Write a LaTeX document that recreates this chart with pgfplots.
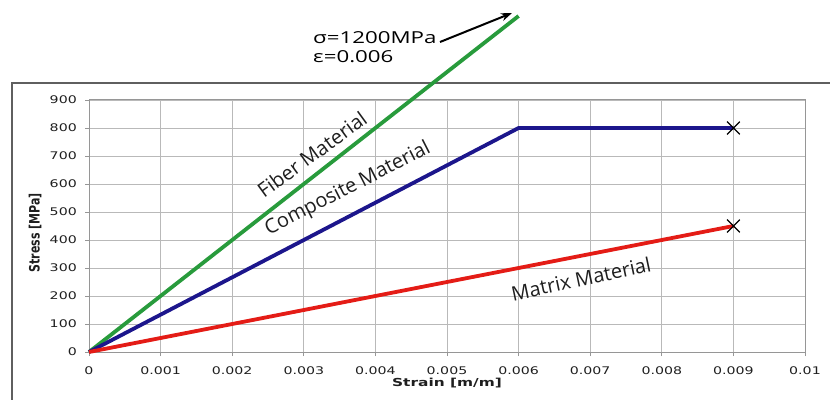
\documentclass[border=0pt]{standalone}
\usepackage{pgfplots}
\pgfplotsset{compat=1.18}
\usetikzlibrary{arrows.meta}
\usepackage{fontspec}
\setmainfont{Open Sans}
\newfontfamily\tickfont[FakeStretch=1.35]{DejaVu Sans}
\newfontfamily\xlabfont[FakeStretch=1.4]{DejaVu Sans}
\newfontfamily\ylabfont{DejaVu Sans}
\newfontfamily\lblfont{Open Sans}
\newfontfamily\annfont[FakeStretch=1.35]{Open Sans}
\definecolor{fibergreen}{RGB}{40,155,60}
\definecolor{compnavy}{RGB}{28,22,140}
\definecolor{matred}{RGB}{228,28,22}
\definecolor{gridgray}{RGB}{185,185,185}
\definecolor{framegray}{RGB}{150,150,150}
\definecolor{boxgray}{RGB}{95,95,95}
\definecolor{txt}{RGB}{30,30,30}
\begin{document}
\begin{tikzpicture}
\useasboundingbox (0pt,0pt) rectangle (830pt,399pt);
% outer frame (partially visible)
\draw[boxgray, line width=2pt] (12pt,-5pt) -- (12pt,316pt) -- (835pt,316pt);
\begin{axis}[
  at={(89pt,47pt)}, anchor=south west,
  width=716pt, height=252pt, scale only axis,
  xmin=0, xmax=0.01, ymin=0, ymax=900,
  clip=false,
  scaled x ticks=false, scaled y ticks=false,
  /pgf/number format/assume math mode=true,
  xtick={0,0.001,0.002,0.003,0.004,0.005,0.006,0.007,0.008,0.009,0.01},
  xticklabels={0,0.001,0.002,0.003,0.004,0.005,0.006,0.007,0.008,0.009,0.01},
  ytick={0,100,200,300,400,500,600,700,800,900},
  yticklabels={0,100,200,300,400,500,600,700,800,900},
  grid=major,
  grid style={gridgray, line width=0.8pt},
  axis line style={framegray, line width=1pt},
  tick pos=left,
  tick align=outside,
  major tick length=4pt,
  tick style={framegray, line width=0.8pt},
  every tick label/.append style={font=\tickfont\fontsize{10.5}{12}\selectfont, text=txt, inner sep=0pt},
  xticklabel style={anchor=north, yshift=-11pt},
  yticklabel style={anchor=east, xshift=-8pt},
  xlabel={Strain [m/m]},
  ylabel={\scalebox{1}[1.3]{Stress [MPa]}},
  xlabel style={font=\xlabfont\bfseries\fontsize{11}{12}\selectfont, text=txt, at={(axis description cs:0.5,0)}, anchor=center, yshift=-31pt},
  ylabel style={font=\ylabfont\bfseries\fontsize{11}{12}\selectfont, text=txt, at={(axis description cs:-0.0754,0.4722)}, anchor=center},
]
\addplot[fibergreen, line width=3.8pt] coordinates {(0,0) (0.006,1200)};
\addplot[compnavy, line width=3.8pt, line join=round] coordinates {(0,0) (0.006,800) (0.009,800)};
\addplot[matred, line width=3.8pt] coordinates {(0,0) (0.009,450)};
\addplot[only marks, mark=x, mark size=9pt, black, line width=1.2pt] coordinates {(0.009,800) (0.009,450)};
\node[font=\lblfont\fontsize{20}{22}\selectfont, text=txt, rotate=36, inner sep=0pt] at (axis cs:0.003115,706) {Fiber Material};
\node[font=\lblfont\fontsize{20}{22}\selectfont, text=txt, rotate=27, inner sep=0pt] at (axis cs:0.003617,582) {Composite Material};
\node[font=\lblfont\fontsize{20}{22}\selectfont, text=txt, rotate=12, inner sep=0pt] at (axis cs:0.006872,261) {Matrix Material};
\end{axis}
\node[font=\annfont\fontsize{16.5}{18}\selectfont, text=black, anchor=base west, inner sep=0pt] at (313pt,355pt) {σ=1200MPa};
\node[font=\annfont\fontsize{16.5}{18}\selectfont, text=black, anchor=base west, inner sep=0pt] at (313pt,336pt) {ε=0.006};
\draw[black, line width=2pt, -{Stealth[length=11pt, width=8pt]}] (440pt,357pt) -- (512pt,386pt);
\end{tikzpicture}
\end{document}
